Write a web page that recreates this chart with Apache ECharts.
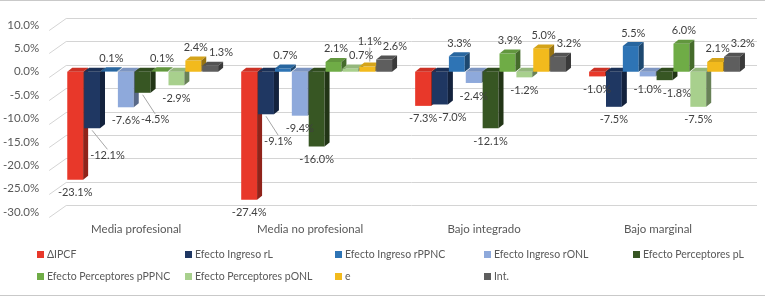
<!DOCTYPE html>
<html>
<head>
<meta charset="utf-8">
<script src="https://cdn.jsdelivr.net/npm/echarts@6/dist/echarts.min.js"></script>
<style>
  html, body { margin: 0; padding: 0; background: #fff; }
  #chart { width: 765px; height: 298px; }
  .edge { position: absolute; left: 0; width: 765px; height: 1px; background: #c9c9c9; }
</style>
</head>
<body>
<div id="chart"></div>
<div class="edge" style="top:0"></div>
<div class="edge" style="top:295px"></div>
<script>
// datos (%)
const categories = ['Media profesional', 'Media no profesional', 'Bajo integrado', 'Bajo marginal']
const seriesNames = ['ΔIPCF', 'Efecto Ingreso rL', 'Efecto Ingreso rPPNC', 'Efecto Ingreso rONL',
  'Efecto Perceptores pL', 'Efecto Perceptores pPPNC', 'Efecto Perceptores pONL', 'e', 'Int.']
const ipcf = [-23.1, -27.4, -7.3, -1.0]
const ingresoRL = [-12.1, -9.1, -7.0, -7.5]
const ingresoRPPNC = [0.1, 0.7, 3.3, 5.5]
const ingresoRONL = [-7.6, -9.4, -2.4, -1.0]
const perceptoresPL = [-4.5, -16.0, -12.1, -1.8]
const perceptoresPPPNC = [0.1, 2.1, 3.9, 6.0]
const perceptoresPONL = [-2.9, 0.7, -1.2, -7.5]
const efectoE = [2.4, 1.1, 5.0, 2.1]
const interaccion = [1.3, 2.6, 3.2, 3.2]
const yTicks = [10, 5, 0, -5, -10, -15, -20, -25, -30]

const allValues = [ipcf, ingresoRL, ingresoRPPNC, ingresoRONL, perceptoresPL,
  perceptoresPPPNC, perceptoresPONL, efectoE, interaccion]
const colors = ['#E8382A', '#1F3762', '#2E74B5', '#8EA9DB', '#375623',
  '#6FAC46', '#A8D08D', '#F2BA1D', '#5E5E5E']

const FONT = 'Lato'
const DX = 5
const DY = -4

let measureCtx = document.createElement('canvas').getContext('2d')
function textWidth(t) {
  measureCtx.font = '11px ' + FONT
  return measureCtx.measureText(t).width
}

function shade(hex, k) {
  let n = parseInt(hex.slice(1), 16)
  let r = Math.round(((n >> 16) & 255) * k)
  let g = Math.round(((n >> 8) & 255) * k)
  let b = Math.round((n & 255) * k)
  return 'rgb(' + r + ',' + g + ',' + b + ')'
}

let placed = categories.map(() => [])
let drawnBars = categories.map(() => [])

function hits(cat, x, y, w) {
  return placed[cat].filter(p => Math.abs(p.x - x) < (p.w + w) / 2 + 1 && Math.abs(p.y - y) < 12)
}
function barHits(cat, x, y, w) {
  return drawnBars[cat].filter(b => x - w / 2 < b.x2 && x + w / 2 > b.x1 && y - 6 < b.y2 && y + 6 > b.y1)
}

// pared del fondo: líneas de cuadrícula y diagonales
function renderWall(params, api) {
  let band = api.size([1, 0])[0]
  let a = api.coord([0, api.value(1)])
  let b = api.coord([categories.length - 1, api.value(1)])
  let y = Math.round(a[1]) + 0.5
  let l = a[0] - band / 2
  let r = b[0] + band / 2
  return {
    type: 'group',
    children: [
      { type: 'line', shape: { x1: l - 7, y1: y + 5, x2: l + 10, y2: y - 7 }, style: { stroke: '#d4d4d4', lineWidth: 1 } },
      { type: 'line', shape: { x1: l + 10, y1: y - 7, x2: r + 5, y2: y - 7 }, style: { stroke: '#d4d4d4', lineWidth: 1 } }
    ]
  }
}

// barras con efecto 3D
function renderBar(idx) {
  return function (params, api) {
    let cat = api.value(0)
    let val = api.value(1)
    let base = api.coord([cat, 0])
    let end = api.coord([cat, val])
    let band = api.size([1, 0])[0]
    let children = []

    if (idx === 0 && params.dataIndex === 0) {
      placed = categories.map(() => [])
      drawnBars = categories.map(() => [])
    }

    let slot = band * 0.097
    let w = slot - 1
    let x = base[0] - slot * 4.5 + idx * slot
    let top = Math.min(base[1], end[1])
    let bottom = Math.max(base[1], end[1])
    let c = colors[idx]

    children.push(
      { type: 'rect', shape: { x: x, y: top, width: w, height: bottom - top }, style: { fill: c } },
      { type: 'polygon', shape: { points: [[x, top], [x + w, top], [x + w + DX, top + DY], [x + DX, top + DY]] },
        style: { fill: shade(c, 0.88) } },
      { type: 'polygon', shape: { points: [[x + w, top], [x + w + DX, top + DY], [x + w + DX, bottom + DY], [x + w, bottom]] },
        style: { fill: shade(c, 0.62) } }
    )

    // etiqueta: evitar solapes con barras anteriores y con otras etiquetas
    let text = val.toFixed(1) + '%'
    let tw = textWidth(text)
    let ax = val >= 0 ? x + w / 2 + DX / 2 : x + w / 2
    let ay = val >= 0 ? top + DY - 9 : bottom + 13
    let lx = ax
    let ly = ay
    if (val < 0) {
      let hb = barHits(cat, lx, ly, tw)
      if (hb.length) {
        lx = Math.max.apply(null, hb.map(b => b.x2)) + 2 + tw / 2
        ly += 14
      }
    }
    let over = hits(cat, lx, ly, tw)
    if (over.length) {
      let nx = Math.max.apply(null, over.map(p => p.x + (p.w + tw) / 2 + 1))
      if (nx - lx <= 14 && !hits(cat, nx, ly, tw).length) {
        lx = nx
      } else {
        let step = val >= 0 ? -12 : 12
        let guard = 0
        while (hits(cat, lx, ly, tw).length && guard++ < 8) ly += step
      }
    }
    placed[cat].push({ x: lx, y: ly, w: tw })
    drawnBars[cat].push({ x1: x, x2: x + w + DX, y1: top + DY, y2: bottom })
    if (ly !== ay) {
      let y0 = val >= 0 ? top + DY - 1 : bottom + 2
      let y1 = val >= 0 ? ly + 6 : ly - 6
      children.push({ type: 'line', z2: 9, shape: { x1: ax, y1: y0, x2: lx, y2: y1 },
        style: { stroke: '#a6a6a6', lineWidth: 1 } })
    }
    children.push({ type: 'text', z2: 10, style: { text: text, x: lx, y: ly, align: 'center',
      verticalAlign: 'middle', fill: '#404040', fontSize: 11, fontFamily: FONT } })

    return { type: 'group', children: children }
  }
}

let myChart = echarts.init(document.getElementById('chart'))

let series = [{
  type: 'custom',
  renderItem: renderWall,
  data: yTicks.map(t => [0, t])
}].concat(seriesNames.map((name, i) => ({
  type: 'custom',
  name: name,
  clip: false,
  itemStyle: { color: colors[i] },
  renderItem: renderBar(i),
  data: allValues[i].map((v, j) => [j, v])
})))

let cols = [37, 185, 335, 484, 633]
let rows = [249, 271]
let legends = seriesNames.map((name, i) => ({
  data: [name],
  left: cols[i % 5],
  top: rows[Math.floor(i / 5)],
  padding: 0,
  icon: 'rect',
  itemWidth: 7,
  itemHeight: 7,
  selectedMode: false,
  textStyle: { color: '#595959', fontSize: 10.5, fontFamily: FONT, padding: [0, 0, 0, -2] }
}))

myChart.setOption({
  animation: false,
  textStyle: { fontFamily: FONT },
  grid: { left: 52, right: 13, top: 25, bottom: 86 },
  legend: legends,
  xAxis: {
    type: 'category',
    data: categories,
    axisLine: { show: false },
    axisTick: { show: false },
    axisLabel: { color: '#595959', fontSize: 11.5, fontFamily: FONT, margin: 11, padding: [0, 14, 0, 0] }
  },
  yAxis: {
    type: 'value',
    min: -30,
    max: 10,
    interval: 5,
    axisLine: { show: false },
    axisTick: { show: false },
    splitLine: { show: false },
    axisLabel: {
      color: '#595959', fontSize: 11.5, fontFamily: FONT, margin: 17, padding: [10, 0, 0, 0],
      formatter: v => v.toFixed(1) + '%'
    }
  },
  series: series
})
</script>
</body>
</html>
